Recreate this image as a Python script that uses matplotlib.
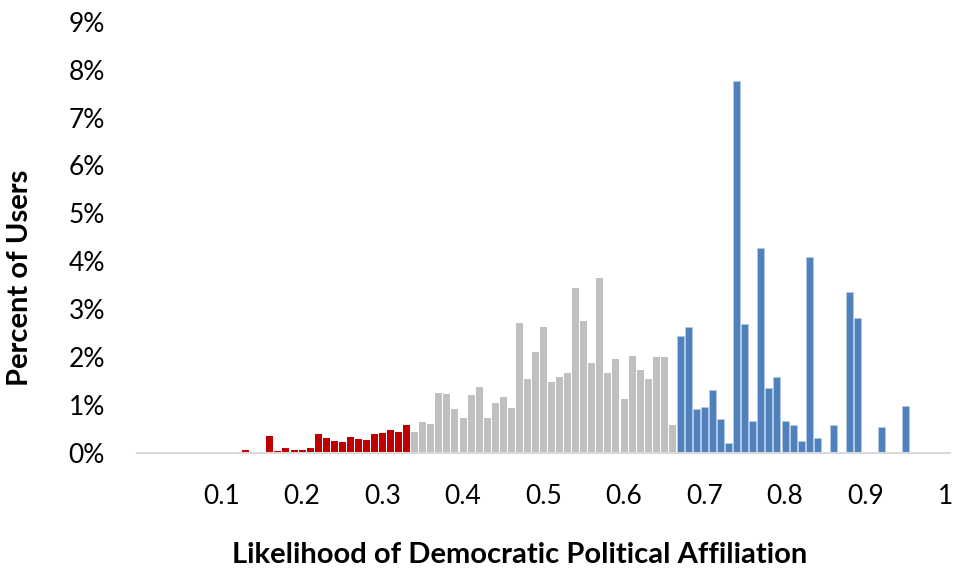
import matplotlib
matplotlib.use("Agg")
import matplotlib.pyplot as plt
import numpy as np

plt.rcParams['font.family'] = ['Lato', 'DejaVu Sans']

# percent of users per likelihood bin (0.00 .. 1.00, step 0.01)
bins = np.round(np.arange(0, 1.001, 0.01), 2)
pct = [0, 0, 0, 0, 0, 0, 0, 0, 0, 0,
       0, 0, 0.01, 0.06, 0, 0.01, 0.36, 0.04, 0.10, 0.06,
       0.06, 0.10, 0.40, 0.31, 0.25, 0.23, 0.33, 0.29, 0.27, 0.40,
       0.42, 0.48, 0.44, 0.58, 0.44, 0.65, 0.60, 1.25, 1.23, 0.92,
       0.73, 1.21, 1.38, 0.73, 1.04, 1.17, 0.94, 2.71, 1.54, 2.11,
       2.63, 1.48, 1.58, 1.67, 3.44, 2.75, 1.88, 3.65, 1.67, 1.96,
       1.13, 2.02, 1.73, 1.54, 2.00, 2.00, 0.58, 2.45, 2.62, 0.92,
       0.97, 1.31, 0.70, 0.20, 7.76, 2.69, 0.67, 4.28, 1.35, 1.59,
       0.67, 0.58, 0.25, 4.08, 0.31, 0, 0.58, 0, 3.35, 2.82,
       0.03, 0, 0.54, 0, 0, 0.99, 0, 0, 0, 0,
       0]
xticks = [0.1, 0.2, 0.3, 0.4, 0.5, 0.6, 0.7, 0.8, 0.9, 1.0]
xtick_labels = ['0.1', '0.2', '0.3', '0.4', '0.5', '0.6', '0.7', '0.8', '0.9', '1']

red = '#C00000'
gray = '#BFBFBF'
blue = '#4F81BD'

fig = plt.figure(figsize=(9.55, 5.73), dpi=100)
ax = fig.add_axes([0.1435, 0.2094, 0.8513, 0.7527])

vals = np.array(pct) / 100.0
rep = bins <= 0.335
dem = bins >= 0.665
mid = ~rep & ~dem
w = 0.0087
ax.bar(bins[rep], vals[rep], width=w, color=red, linewidth=0)
ax.bar(bins[mid], vals[mid], width=w, color=gray, linewidth=0)
ax.bar(bins[dem], vals[dem], width=w, color=blue, edgecolor='#B4CAE6', linewidth=0.6)

ax.set_xlim(-0.005, 1.005)
ax.set_ylim(0, 0.09)
ax.set_xticks(xticks)
ax.set_xticklabels(xtick_labels)
ax.set_yticks(np.arange(0, 0.091, 0.01))
ax.set_yticklabels([f'{i}%' for i in range(10)])
ax.tick_params(axis='both', length=0, labelsize=19, colors='#000000')
ax.tick_params(axis='x', pad=22)
ax.tick_params(axis='y', pad=23)

for s in ['top', 'right', 'left']:
    ax.spines[s].set_visible(False)
ax.spines['bottom'].set_color('#D9D9D9')
ax.spines['bottom'].set_linewidth(1.5)

fig.text(0.544, 0.031, 'Likelihood of Democratic Political Affiliation',
         ha='center', va='center', fontsize=21, fontweight='bold')
fig.text(0.021, 0.516, 'Percent of Users', ha='center', va='center',
         rotation=90, fontsize=21, fontweight='bold')

plt.savefig('out.png', dpi=100)
